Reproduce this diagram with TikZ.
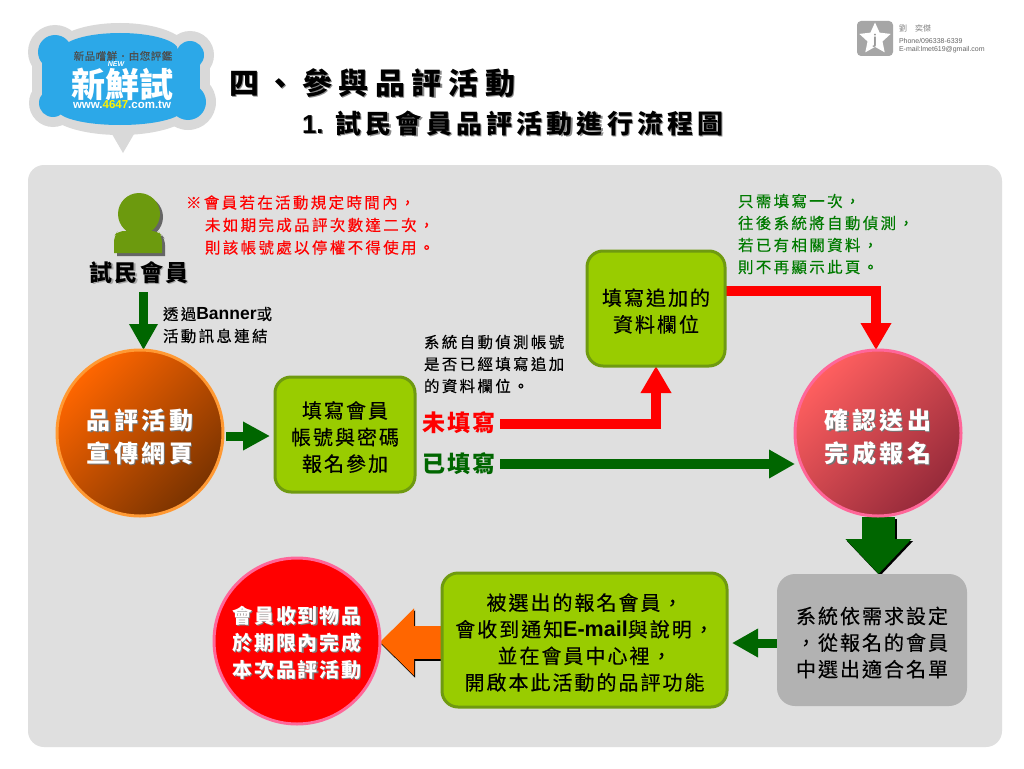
\documentclass[tikz,border=0pt]{standalone}
\usepackage{fontspec}
\setmainfont{Noto Sans CJK TC}
\newfontfamily\latf{Liberation Sans}
\usetikzlibrary{arrows.meta,shapes.geometric,calc}
\pgfdeclarelayer{bg}\pgfdeclarelayer{arrows}\pgfsetlayers{bg,arrows,main}
\definecolor{panelc}{HTML}{DFDFDF}
\definecolor{boxg}{HTML}{99CC00}
\definecolor{boxgb}{HTML}{6F9A10}
\definecolor{darkg}{HTML}{006600}
\definecolor{noteg}{HTML}{007A00}
\definecolor{personc}{HTML}{6C9A0E}
\definecolor{logob}{HTML}{2CA8E8}
\definecolor{logog}{HTML}{D9D9D9}
\definecolor{orangec}{HTML}{FF6600}
\definecolor{orangeb}{HTML}{FF9933}
\definecolor{orangedk}{HTML}{7A3300}
\definecolor{rosec}{HTML}{FF5F5F}
\definecolor{rosedk}{HTML}{962A3A}
\definecolor{roseb}{HTML}{FF6699}
\newcommand\fnt[3]{\fontsize{#1}{#2}\selectfont\addfontfeature{LetterSpace=#3,FakeBold=0.35}}
\newcommand\fntb[3]{\fontsize{#1}{#2}\selectfont\bfseries\addfontfeature{LetterSpace=#3}}
\newcommand\lat[2]{{\latf\bfseries\fontsize{#1}{#1}\selectfont #2}}
\newcommand\shd[2]{\leavevmode\rlap{\raisebox{-1.2pt}{\kern1.2pt\color{#1}#2}}#2}
\newcommand\lobes[2]{%
  \fill[#2] (55,52) circle (17+#1);
  \fill[#2] (190,55) circle (14+#1);
  \fill[#2] (188,102) circle (18+#1);
  \fill[#2] (53,103) circle (14+#1);
  \fill[#2] (120,50) ellipse (58+#1 and 17+#1);
  \fill[#2] (120,110) ellipse (62+#1 and 15+#1);
  \fill[#2] (42-#1,52) rectangle (200+#1,105);}
\newcommand\fdn{\rule{0pt}{22pt}}
\newcommand\cdn{\rule{0pt}{29pt}}
\tikzset{
  x=1pt,y=-1pt,
  every node/.style={inner sep=0pt,outer sep=0pt},
  greenbox/.style={draw=boxgb,line width=3pt,fill=boxg,rounded corners=16pt,align=center,text=black},
  bigcircle/.style={circle,minimum size=166pt,line width=3pt,align=center,text=white},
  flowtext/.style={align=center,font=\fnt{20}{26.6}{10}},
  smalltext/.style={align=left,anchor=west,font=\fnt{15.5}{22}{15}},
  state/.style={anchor=west,font=\fntb{23}{26}{9}},
  redline/.style={draw=red,line width=10.5pt,-{Triangle[length=27pt,width=29pt]}},
  greenline/.style={draw=darkg,line width=9.5pt,-{Triangle[length=26pt,width=27pt]}},
  conn/.style={draw=darkg,-{Triangle[length=27pt,width=27pt]}},
}
\begin{document}
\begin{tikzpicture}
\useasboundingbox (0,0) rectangle (1024,768);
\begin{pgfonlayer}{bg}
\fill[white] (0,0) rectangle (1024,768);
\fill[panelc,rounded corners=16pt] (28,165) rectangle (1002,747);
\end{pgfonlayer}

% logo
\fill[logog] (105,122) -- (123,153) -- (141,122) -- cycle;
\lobes{10}{logog}
\lobes{0}{logob}
\node[text=black!70,font=\fnt{10.5}{12}{5}] (lg1) at (123,56) {新品嚐鮮．由您評鑑};
\node[text=white,font=\fntb{34}{34}{0}] (lg2) at (122,84) {新鮮試};
\node[text=white,font=\latf\bfseries\itshape\fontsize{7}{8}\selectfont] (lg3) at (116,64) {NEW};
\node[text=white,font=\latf\bfseries\fontsize{11.5}{12}\selectfont] (lg4) at (122,105) {www.\textcolor{yellow}{4647}.com.tw};

% contact card
\fill[black!35,rounded corners=4pt] (857,21) rectangle (893,56);
\node[star,star points=5,star point ratio=2.1,fill=white,minimum size=33pt] (cardstar) at (875,39) {};
\node[text=black!40,font=\latf\bfseries\fontsize{14}{14}\selectfont] (cardj) at (875,41) {j};
\node[anchor=west,text=black!50,font=\fontsize{8}{9}\selectfont] (card1) at (899,28) {劉\quad 奕傑};
\node[anchor=west,text=black!60,font=\latf\fontsize{7}{8}\selectfont] (card2) at (899,41) {Phone/096338-6339};
\node[anchor=west,text=black!60,font=\latf\fontsize{7}{8}\selectfont] (card3) at (899,50) {E-mail:lmet619@gmail.com};

% titles
\node[anchor=west,font=\fntb{30}{32}{22}] (title1) at (229,84) {\shd{black!45}{四、參與品評活動}};
\node[anchor=west,font=\fntb{26}{30}{16}] (title2) at (302,124) {\shd{black!45}{\lat{26}{1.}\kern12pt 試民會員品評活動進行流程圖}};

% person
\begin{scope}[shift={(3,3)}]
\fill[black!60] (139,214) circle (21);
\fill[black!60] (114,253) [rounded corners=6pt] -- (114,236) -- (118,231) -- (158,231) -- (162,236) [sharp corners] -- (162,253) -- cycle;
\end{scope}
\fill[personc] (139,214) circle (21);
\fill[personc] (114,253) [rounded corners=6pt] -- (114,236) -- (118,231) -- (158,231) -- (162,236) [sharp corners] -- (162,253) -- cycle;
\node[font=\fntb{23}{26}{9}] (member) at (139,273) {\shd{black!35}{試民會員}};

% red note
\node[anchor=west,align=left,text=red,font=\fnt{15.5}{22.5}{15}] (note) at (186,225)
  {\textbf{※}會員若在活動規定時間內，\\
   \hspace*{19pt}未如期完成品評次數達二次，\\
   \hspace*{19pt}則該帳號處以停權不得使用。};
% small texts
\node[smalltext] (via) at (163,325) {透過\lat{17.5}{Banner}或\\活動訊息連結};
\node[smalltext] (detect) at (424,364) {系統自動偵測帳號\\是否已經填寫追加\\的資料欄位。};
\node[smalltext,text=noteg] (once) at (738,234) {只需填寫一次，\\往後系統將自動偵測，\\若已有相關資料，\\則不再顯示此頁。};

% nodes
\node[bigcircle,draw=orangeb,right color=orangec,left color=orangedk,shading angle=-135,font=\fntb{24}{33}{14}] (promo) at (140,433)
  {\cdn\shd{black!55}{品評活動}\\\shd{black!55}{宣傳網頁}};
\node[greenbox,flowtext,minimum width=140pt,minimum height=115pt] (login) at (345,434.5) {\fdn 填寫會員\\帳號與密碼\\報名參加};
\node[greenbox,flowtext,minimum width=138pt,minimum height=115pt] (extra) at (656,308.5) {\fdn 填寫追加的\\資料欄位};
\node[state,text=red] (unfilled) at (422,423) {未填寫};
\node[state,text=darkg] (filled) at (422,464) {已填寫};
\node[bigcircle,draw=roseb,right color=rosec,left color=rosedk,shading angle=-135,font=\fntb{24}{33}{14}] (confirm) at (878,433)
  {\cdn\shd{black!55}{確認送出}\\\shd{black!55}{完成報名}};
\node[fill=black!30,rounded corners=18pt,minimum width=190pt,minimum height=132pt,flowtext] (system) at (872,640)
  {\fdn 系統依需求設定\\，從報名的會員\\中選出適合名單};
\node[greenbox,flowtext,minimum width=285pt,minimum height=134pt] (notify) at (584.5,640)
  {\fdn 被選出的報名會員，\\會收到通知\lat{21.5}{E-mail}與說明，\\並在會員中心裡，\\開啟本此活動的品評功能};
\node[bigcircle,draw=roseb,fill=red,font=\fntb{20}{27}{9}] (done) at (297,641)
  {\fdn\shd{black!50}{會員收到物品}\\\shd{black!50}{於期限內完成}\\\shd{black!50}{本次品評活動}};

% connectors
\coordinate (c1) at (143.5,292);
\coordinate (c2) at (226,436);
\coordinate (c3) at (270,436);
\coordinate (c4) at (500,424);
\coordinate (c5) at (656,424);
\coordinate (c6) at (500,464);
\coordinate (c7) at (725,291);
\coordinate (c8) at (876,291);
\coordinate (c9) at (878.5,517);
\coordinate (c10) at (777,643);
\coordinate (c11) at (732,643);
\coordinate (c12) at (445,642);
\begin{pgfonlayer}{arrows}
\draw[darkg,line width=9pt,-{Triangle[length=26pt,width=27pt]}] (c1) -- (c1 |- promo.north);
\draw[conn,line width=9pt] (c2) -- (c3);
\draw[redline] (c4) -- (c5) -- (c5 |- extra.south);
\draw[greenline] (c6) -- (c6 -| confirm.west);
\draw[redline] (c7) -- (c8) -- (c8 |- confirm.north);
\draw[black,line width=33pt,-{Triangle[length=35pt,width=64pt]},transform canvas={shift={(1.5pt,-2pt)}}] (c9) -- (c9 |- system.north);
\draw[darkg,line width=33pt,-{Triangle[length=35pt,width=64pt]}] (c9) -- (c9 |- system.north);
\draw[conn,line width=9pt,-{Triangle[length=26pt,width=27pt]}] (c10) -- (c11);
\draw[black,line width=33pt,-{Triangle[length=34pt,width=65pt]},transform canvas={shift={(1pt,-2pt)}}] (c12) -- (c12 -| done.east);
\draw[orangec,line width=33pt,-{Triangle[length=34pt,width=65pt]}] (c12) -- (c12 -| done.east);
\end{pgfonlayer}
\end{tikzpicture}
\end{document}
